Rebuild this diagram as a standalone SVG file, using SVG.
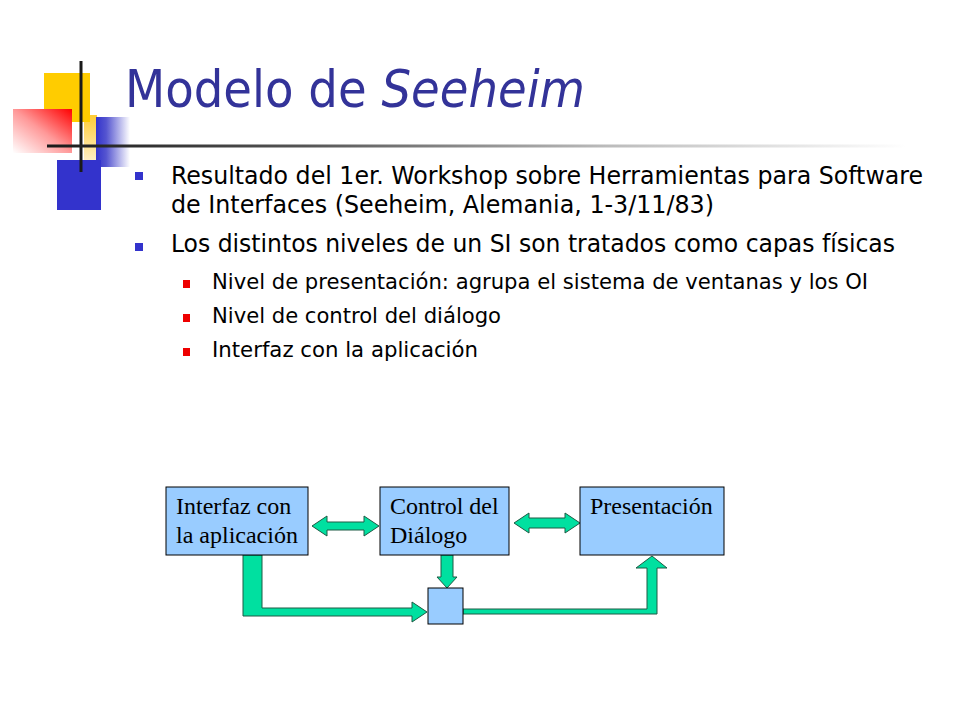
<svg xmlns="http://www.w3.org/2000/svg" width="960" height="720" viewBox="0 0 960 720">
<style>
.title{font-family:"DejaVu Sans Condensed","Liberation Sans",sans-serif;font-size:51px;fill:#333399}
.b1{font-family:"DejaVu Sans Condensed","Liberation Sans",sans-serif;font-size:24px;fill:#000}
.b2{font-family:"DejaVu Sans Condensed","Liberation Sans",sans-serif;font-size:21.5px;fill:#000}
.box{fill:#99CCFF;stroke:#000;stroke-width:1}
.lbl{font-family:"Liberation Serif","Times New Roman",serif;font-size:24px;fill:#000}
.arr{fill:#00E0A0;stroke:#1E5A44;stroke-width:1;stroke-linejoin:miter}
</style>
<defs>
<linearGradient id="gRed" x1="0" y1="1" x2="1" y2="0">
<stop offset="0" stop-color="#FFFFFF"/>
<stop offset="0.5" stop-color="#FF9999"/>
<stop offset="1" stop-color="#FF0000"/>
</linearGradient>
<linearGradient id="gBlue" x1="0" y1="0" x2="1" y2="0">
<stop offset="0" stop-color="#3333CC"/>
<stop offset="0.3" stop-color="#5555D0"/>
<stop offset="1" stop-color="#FFFFFF"/>
</linearGradient>
<linearGradient id="gYel" x1="0" y1="0" x2="0" y2="1">
<stop offset="0" stop-color="#FFCC33"/>
<stop offset="1" stop-color="#FFF4DD"/>
</linearGradient>
<linearGradient id="gLine" x1="0" y1="0" x2="1" y2="0">
<stop offset="0" stop-color="#1A1A1A"/>
<stop offset="0.3" stop-color="#555555"/>
<stop offset="0.65" stop-color="#BBBBBB"/>
<stop offset="1" stop-color="#FFFFFF"/>
</linearGradient>
</defs>
<rect width="960" height="720" fill="#FFFFFF"/>
<g id="logo">
<rect x="84" y="115" width="13" height="53" fill="url(#gYel)"/>
<rect x="44" y="73" width="46" height="49" fill="#FFCC00"/>
<rect x="13" y="109" width="59" height="44" fill="url(#gRed)"/>
<rect x="96" y="117" width="34" height="50" fill="url(#gBlue)"/>
<rect x="57" y="160" width="44" height="50" fill="#3333CC"/>
<rect x="79.500" y="61" width="3" height="111" fill="#1A1A1A"/>
<rect x="47" y="144.500" width="860" height="3" fill="url(#gLine)"/>
</g>
<g id="title">
<text class="title" x="125" y="107" textLength="460" lengthAdjust="spacingAndGlyphs">Modelo de <tspan font-style="italic">Seeheim</tspan></text>
</g>
<g id="bullets">
<rect x="135" y="172" width="8" height="8" fill="#3333CC"/>
<text class="b1" x="171" y="184" textLength="752" lengthAdjust="spacingAndGlyphs">Resultado del 1er. Workshop sobre Herramientas para Software</text>
<text class="b1" x="171" y="213" textLength="543" lengthAdjust="spacingAndGlyphs">de Interfaces (Seeheim, Alemania, 1-3/11/83)</text>
<rect x="135" y="243" width="8" height="8" fill="#3333CC"/>
<text class="b1" x="171" y="252" textLength="724" lengthAdjust="spacingAndGlyphs">Los distintos niveles de un SI son tratados como capas físicas</text>
<rect x="183" y="280" width="7" height="8" fill="#EE0000"/>
<text class="b2" x="212" y="289" textLength="656" lengthAdjust="spacingAndGlyphs">Nivel de presentación: agrupa el sistema de ventanas y los OI</text>
<rect x="183" y="314" width="7" height="8" fill="#EE0000"/>
<text class="b2" x="212" y="323" textLength="289" lengthAdjust="spacingAndGlyphs">Nivel de control del diálogo</text>
<rect x="183" y="348" width="7" height="8" fill="#EE0000"/>
<text class="b2" x="212" y="357" textLength="266" lengthAdjust="spacingAndGlyphs">Interfaz con la aplicación</text>
</g>
<g id="connectors">
<polygon class="arr" points="312,526 327,516 327,522 364,522 364,516 379,526 364,536 364,530 327,530 327,536"/>
<polygon class="arr" points="514,523 529,513 529,518 565,518 565,513 580,523 565,533 565,528 529,528 529,533"/>
<polygon class="arr" points="441,555 453,555 453,577 457,577 447,588 437,577 441,577"/>
<polygon class="arr" points="243,555 262,555 262,608 412,608 412,602 427,612 412,622 412,616 243,616"/>
<polygon class="arr" points="463,609 647,609 647,568 636,568 652,556 667,568 657,568 657,614 463,614"/>
</g>
<g id="node-interfaz">
<rect class="box" x="166" y="487" width="142" height="68"/>
<text class="lbl" x="176" y="514">Interfaz con</text>
<text class="lbl" x="176" y="543">la aplicación</text>
</g>
<g id="node-control">
<rect class="box" x="380" y="487" width="129" height="68"/>
<text class="lbl" x="390" y="514">Control del</text>
<text class="lbl" x="390" y="543">Diálogo</text>
</g>
<g id="node-presentacion">
<rect class="box" x="580" y="487" width="144" height="68"/>
<text class="lbl" x="590" y="514">Presentación</text>
</g>
<g id="node-small">
<rect class="box" x="428" y="588" width="35" height="36"/>
</g>
</svg>
